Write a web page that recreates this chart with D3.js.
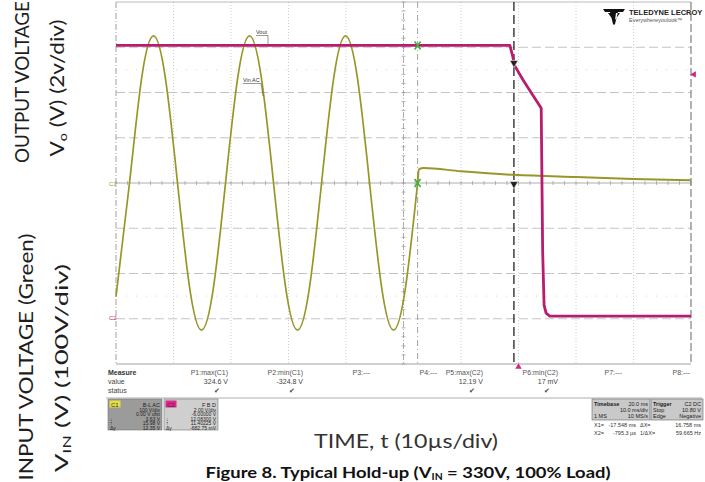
<!DOCTYPE html>
<html>
<head>
<meta charset="utf-8">
<script src="https://cdn.jsdelivr.net/npm/d3@7"></script>
<style>
  body { margin: 0; background: #fff; }
  text { font-family: "Liberation Sans", Arial, sans-serif; }
</style>
</head>
<body>
<div id="scope"></div>
<script>
// time in ms (trigger = 0), volts
const vinAcTime = [-70, -67.65, -65.56, -63.48, -61.39, -59.30, -57.21, -55.13, -53.04,
  -50.95, -48.86, -46.78, -44.69, -42.60, -40.51, -38.43, -36.34,
  -34.25, -32.16, -30.08, -27.99, -25.90, -23.81, -21.73, -19.64, -17.55];
const vinAcVolts = [-251, 0, 230, 325, 230, 0, -230, -325, -230,
  0, 230, 325, 230, 0, -230, -325, -230,
  0, 230, 325, 230, 0, -230, -325, -230, 0];

const vinHoldTime = [-17.55, -17.3, -16.5, -10, -0.8, 10, 20, 30];
const vinHoldVolts = [0, 30, 33, 26, 18, 13, 9, 6];

const voutTime = [-70, -1.5, -1.0, -0.7, 0.8, 2.3, 3.6, 3.95, 4.2, 4.45, 4.8, 5.4, 30];
const voutVolts = [12.08, 12.08, 11.6, 11.2, 10.55, 9.96, 9.45, 9.3, 3.0, 0.6, 0.25, 0.12, 0.12];

const cursorTimes = [-17.548, -0.7953];   // X1, X2
const triggerLevel = 10.8;

const measureNames = ["P1:max(C1)", "P2:min(C1)", "P3:---", "P4:---", "P5:max(C2)", "P6:min(C2)", "P7:---", "P8:---"];
const measureValues = ["324.6 V", "-324.8 V", "", "", "12.19 V", "17 mV", "", ""];
const measureStatus = ["\u2714", "\u2714", "", "", "\u2714", "\u2714", "", ""];
const measureRight = [228, 303, 370, 437, 483, 558, 622, 690];

const c1Rows = ["100 V/div", "0.00 V ofst", "3.63 V", "15.98 V", "12.35 V"];
const c2Rows = ["2.00 V/div", "-6.00000 V", "12.08300 V", "11.40225 V", "-682.75 mV"];
const rowMarks = ["", "", "\u2193", "\u2191", "\u0394y"];

var margins = {top: 2, right: 14, bottom: 118, left: 116},
    width = 705 - margins.left - margins.right,
    height = 482 - margins.top - margins.bottom;

var root = d3.select("#scope").append("svg")
    .attr("width", 705)
    .attr("height", 482);

root.append("rect").attr("width", 705).attr("height", 482).attr("fill", "#fff");

var svg = root.append("g")
    .attr("transform", "translate(" + margins.left + "," + margins.top + ")");

const x = d3.scaleLinear().domain([-70, 30]).range([0, width]);
const yVin = d3.scaleLinear().domain([-400, 400]).range([height, 0]);
const yVout = d3.scaleLinear().domain([-2, 14]).range([height, 0]);

// grid
svg.selectAll("line.vgrid")
  .data(d3.range(-60, 30, 10))
  .enter().append("line")
  .attr("x1", d => x(d)).attr("x2", d => x(d))
  .attr("y1", 0).attr("y2", height)
  .style("stroke", d => d === -20 ? "#999" : "#c4c4c4")
  .style("stroke-width", 0.8)
  .style("stroke-dasharray", d => d === -20 ? "6 2 1 2" : "1 2");

svg.selectAll("line.hgrid")
  .data(d3.range(-300, 400, 100))
  .enter().append("line")
  .attr("x1", 0).attr("x2", width)
  .attr("y1", d => yVin(d)).attr("y2", d => yVin(d))
  .style("stroke", d => d === 0 ? "#9a9a9a" : "#b5b5b5")
  .style("stroke-width", 0.8)
  .style("stroke-dasharray", d => d === 0 ? null : "9 4");

// half-division dotted rows
svg.selectAll("line.hdot")
  .data([250, -250])
  .enter().append("line")
  .attr("x1", 0).attr("x2", width)
  .attr("y1", d => yVin(d)).attr("y2", d => yVin(d))
  .style("stroke", "#c8c8c8")
  .style("stroke-width", 0.8)
  .style("stroke-dasharray", "1 9");

// minor ticks on centre axes
svg.selectAll("line.xtick")
  .data(d3.range(-70, 30.1, 2))
  .enter().append("line")
  .attr("x1", d => x(d)).attr("x2", d => x(d))
  .attr("y1", yVin(0) - 2).attr("y2", yVin(0) + 2)
  .style("stroke", "#999").style("stroke-width", 0.7);

svg.selectAll("line.ytick")
  .data(d3.range(-400, 400.1, 20))
  .enter().append("line")
  .attr("x1", x(-20) - 2).attr("x2", x(-20) + 2)
  .attr("y1", d => yVin(d)).attr("y2", d => yVin(d))
  .style("stroke", "#999").style("stroke-width", 0.7);

// frame
svg.append("line").attr("x1", 0).attr("x2", width).attr("y1", 0).attr("y2", 0)
  .style("stroke", "#aaa").style("stroke-width", 0.8);
svg.append("line").attr("x1", 0).attr("x2", width).attr("y1", height).attr("y2", height)
  .style("stroke", "#888").style("stroke-width", 0.8);
svg.append("line").attr("x1", 0).attr("x2", 0).attr("y1", 0).attr("y2", height)
  .style("stroke", "#888").style("stroke-width", 0.8).style("stroke-dasharray", "6 2 1 2");
svg.append("line").attr("x1", width).attr("x2", width).attr("y1", 0).attr("y2", height)
  .style("stroke", "#666").style("stroke-width", 1).style("stroke-dasharray", "8 3");

// cursors
svg.append("line")
  .attr("x1", x(cursorTimes[0])).attr("x2", x(cursorTimes[0]))
  .attr("y1", 0).attr("y2", height)
  .style("stroke", "#999").style("stroke-width", 0.9).style("stroke-dasharray", "6 3 1 3");
svg.append("line")
  .attr("x1", x(cursorTimes[1])).attr("x2", x(cursorTimes[1]))
  .attr("y1", 0).attr("y2", height)
  .style("stroke", "#222").style("stroke-width", 1.3).style("stroke-dasharray", "9 4");

// traces
const lineVin = d3.line().x(d => x(d[0])).y(d => yVin(d[1]));
const lineVout = d3.line().x(d => x(d[0])).y(d => yVout(d[1]));

svg.append("path")
  .datum(d3.zip(vinAcTime, vinAcVolts))
  .attr("d", lineVin.curve(d3.curveNatural))
  .style("fill", "none").style("stroke", "#999629").style("stroke-width", 1.7);

svg.append("path")
  .datum(d3.zip(vinHoldTime, vinHoldVolts))
  .attr("d", lineVin.curve(d3.curveMonotoneX))
  .style("fill", "none").style("stroke", "#999629").style("stroke-width", 2);

svg.append("path")
  .datum(d3.zip(voutTime, voutVolts))
  .attr("d", lineVout)
  .style("fill", "none").style("stroke", "#b81c6e").style("stroke-width", 2.8)
  .style("stroke-linejoin", "round");

// cursor markers
function marker(cx, cy, color) {
  svg.append("path")
    .attr("d", "M" + (cx - 3) + "," + (cy - 4) + "L" + (cx + 3) + "," + (cy + 4) +
      "M" + (cx + 3) + "," + (cy - 4) + "L" + (cx - 3) + "," + (cy + 4))
    .style("stroke", color).style("stroke-width", 1.6);
}
marker(x(cursorTimes[0]), yVout(12.08), "#3fae3f");
marker(x(cursorTimes[0]), yVin(0), "#3fae3f");
svg.append("path")
  .attr("d", d3.symbol(d3.symbolTriangle, 30)())
  .attr("transform", "translate(" + x(cursorTimes[1]) + "," + (yVout(11.4) + 2) + ") rotate(180)")
  .style("fill", "#222").style("stroke", "#fff").style("stroke-width", 0.6);
svg.append("path")
  .attr("d", d3.symbol(d3.symbolTriangle, 30)())
  .attr("transform", "translate(" + x(cursorTimes[1]) + "," + (yVin(0) + 1) + ") rotate(180)")
  .style("fill", "#222").style("stroke", "#fff").style("stroke-width", 0.6);

// trigger markers
svg.append("path")
  .attr("d", d3.symbol(d3.symbolTriangle, 18)())
  .attr("transform", "translate(" + x(0) + "," + (height + 3) + ")")
  .style("fill", "#d4247d");
svg.append("path")
  .attr("d", d3.symbol(d3.symbolTriangle, 18)())
  .attr("transform", "translate(" + (width + 3) + "," + yVout(triggerLevel) + ") rotate(-90)")
  .style("fill", "#d4247d");

// channel tags on the left edge
root.append("text").attr("x", 109).attr("y", margins.top + yVin(0) + 2.5)
  .style("font-size", "6px").style("fill", "#9c9a20").text("C1");
root.append("text").attr("x", 109).attr("y", margins.top + yVout(0) + 1)
  .style("font-size", "6px").style("fill", "#c8207a").text("C2");

// trace labels
function traceLabel(tx, ty, label, lx, ly) {
  svg.append("text").attr("x", tx).attr("y", ty)
    .style("font-size", "5.5px").style("fill", "#333").text(label);
  svg.append("line").attr("x1", tx).attr("x2", tx + label.length * 3).attr("y1", ty + 1.5).attr("y2", ty + 1.5)
    .style("stroke", "#333").style("stroke-width", 0.5);
  svg.append("line").attr("x1", tx + label.length * 3).attr("x2", lx).attr("y1", ty + 1.5).attr("y2", ly)
    .style("stroke", "#333").style("stroke-width", 0.5);
}
traceLabel(140, 32, "Vout", 152, 42);
traceLabel(127, 80, "Vin AC", 147, 94);

// logo
const logo = root.append("g").attr("transform", "translate(614,15)");
logo.append("path")
  .attr("d", "M-11,-6 L11,-6 L9,-3 L4,-3 L1,9 L0,10 L-1,9 L-4,-3 L-9,-3 Z M-6,-2 L-2,-2 L-1,5 Z M6,-2 L2,-2 L1,5 Z")
  .style("fill", "#111");
root.append("text").attr("x", 629).attr("y", 15)
  .style("font-size", "7.5px").style("font-weight", "bold").style("fill", "#222")
  .text("TELEDYNE LECROY");
root.append("text").attr("x", 629).attr("y", 22)
  .style("font-size", "5.5px").style("fill", "#555")
  .text("Everywhereyoulook\u2122");

// measure table
const tiny = "7px";
root.append("text").attr("x", 108).attr("y", 375).style("font-size", tiny).style("font-weight", "bold").style("fill", "#333").text("Measure");
root.append("text").attr("x", 108).attr("y", 384).style("font-size", tiny).style("fill", "#444").text("value");
root.append("text").attr("x", 108).attr("y", 393).style("font-size", tiny).style("fill", "#444").text("status");

root.selectAll("text.mname").data(measureNames).enter().append("text")
  .attr("x", (d, i) => measureRight[i]).attr("y", 375)
  .attr("text-anchor", "end").style("font-size", tiny).style("fill", "#555").text(d => d);
root.selectAll("text.mval").data(measureValues).enter().append("text")
  .attr("x", (d, i) => measureRight[i]).attr("y", 384)
  .attr("text-anchor", "end").style("font-size", tiny).style("fill", "#444").text(d => d);
root.selectAll("text.mstat").data(measureStatus).enter().append("text")
  .attr("x", (d, i) => measureRight[i] - 8).attr("y", 393)
  .attr("text-anchor", "end").style("font-size", tiny).style("fill", "#444").text(d => d);

root.append("line").attr("x1", 106).attr("x2", 702).attr("y1", 398).attr("y2", 398)
  .style("stroke", "#999").style("stroke-width", 0.8);

// channel panels
function channelPanel(px, fill, tagFill, tag, coupling, rows) {
  root.append("rect").attr("x", px).attr("y", 399).attr("width", 54).attr("height", 31)
    .style("fill", fill).style("stroke", "#777").style("stroke-width", 0.6);
  root.append("rect").attr("x", px + 1.5).attr("y", 400.5).attr("width", 11).attr("height", 7)
    .style("fill", tagFill);
  root.append("text").attr("x", px + 3).attr("y", 406.5).style("font-size", "6px").style("fill", "#333").text(tag);
  root.append("text").attr("x", px + 52).attr("y", 406.5).attr("text-anchor", "end")
    .style("font-size", "5.5px").style("fill", "#222").text(coupling);
  root.selectAll(null).data(rows).enter().append("text")
    .attr("x", px + 52).attr("y", (d, i) => 411.5 + i * 4.6).attr("text-anchor", "end")
    .style("font-size", "5px").style("fill", "#222").text(d => d);
  root.selectAll(null).data(rowMarks).enter().append("text")
    .attr("x", px + 2).attr("y", (d, i) => 411.5 + i * 4.6)
    .style("font-size", "5px").style("fill", "#222").text(d => d);
}
channelPanel(108, "#9b9b9b", "#e2df45", "C1", "B-L AC", c1Rows);
channelPanel(164, "#cfcfcf", "#e0248a", "C2", "F B D", c2Rows);

// timebase / trigger panels
root.append("rect").attr("x", 592).attr("y", 399).attr("width", 58).attr("height", 21)
  .style("fill", "#c9c9c9").style("stroke", "#666").style("stroke-width", 0.6);
root.append("rect").attr("x", 651).attr("y", 399).attr("width", 52).attr("height", 21)
  .style("fill", "#c9c9c9").style("stroke", "#666").style("stroke-width", 0.6);
const tbLeft = ["Timebase", "", "1 MS"], tbRight = ["20.0 ms", "10.0 ms/div", "10 MS/s"];
const trLeft = ["Trigger", "Stop", "Edge"], trRight = ["C2 DC", "10.80 V", "Negative"];
tbLeft.forEach((t, i) => root.append("text").attr("x", 594).attr("y", 405.5 + i * 6.3).style("font-size", "5.5px").style("font-weight", i === 0 ? "bold" : "normal").style("fill", "#222").text(t));
tbRight.forEach((t, i) => root.append("text").attr("x", 648).attr("y", 405.5 + i * 6.3).attr("text-anchor", "end").style("font-size", "5.5px").style("fill", "#222").text(t));
trLeft.forEach((t, i) => root.append("text").attr("x", 653).attr("y", 405.5 + i * 6.3).style("font-size", "5.5px").style("font-weight", i === 0 ? "bold" : "normal").style("fill", "#222").text(t));
trRight.forEach((t, i) => root.append("text").attr("x", 701).attr("y", 405.5 + i * 6.3).attr("text-anchor", "end").style("font-size", "5.5px").style("fill", "#222").text(t));

const cursorRows = [["X1=", "-17.548 ms", "\u0394X=", "16.758 ms"], ["X2=", "-795.3 \u00b5s", "1/\u0394X=", "59.665 Hz"]];
cursorRows.forEach((r, i) => {
  const yy = 427 + i * 8;
  root.append("text").attr("x", 594).attr("y", yy).style("font-size", "5.5px").style("fill", "#333").text(r[0]);
  root.append("text").attr("x", 636).attr("y", yy).attr("text-anchor", "end").style("font-size", "5.5px").style("fill", "#333").text(r[1]);
  root.append("text").attr("x", 640).attr("y", yy).style("font-size", "5.5px").style("fill", "#333").text(r[2]);
  root.append("text").attr("x", 701).attr("y", yy).attr("text-anchor", "end").style("font-size", "5.5px").style("fill", "#333").text(r[3]);
});

// axis titles
const big = "Lato, 'Open Sans', sans-serif";
function vTitle(cx, cy, len, size, parts) {
  const t = root.append("text")
    .attr("transform", "translate(" + cx + "," + cy + ") rotate(-90)")
    .attr("text-anchor", "middle")
    .attr("textLength", len).attr("lengthAdjust", "spacingAndGlyphs")
    .style("font-family", big).style("font-size", size + "px").style("fill", "#1e1e1e");
  parts.forEach(p => {
    const s = t.append("tspan").text(p[0]);
    if (p[1]) s.attr("baseline-shift", "-3").style("font-size", "12px");
  });
}
vTitle(29, 82, 162, 19, [["OUTPUT VOLTAGE"]]);
vTitle(64, 88, 137, 19, [["V"], ["o", "sub"], [" (V) (2v/div)"]]);
vTitle(33, 357, 247, 19, [["INPUT VOLTAGE (Green)"]]);
vTitle(68, 368, 208, 18, [["V"], ["IN", "sub"], [" (V) (100V/div)"]]);

root.append("text").attr("x", 406).attr("y", 448).attr("text-anchor", "middle")
  .attr("textLength", 184).attr("lengthAdjust", "spacingAndGlyphs")
  .style("font-family", big).style("font-size", "20px").style("fill", "#333")
  .text("TIME, t (10\u00b5s/div)");

const cap = root.append("text").attr("x", 408).attr("y", 478).attr("text-anchor", "middle")
  .attr("textLength", 405).attr("lengthAdjust", "spacingAndGlyphs")
  .style("font-family", big).style("font-size", "16px").style("font-weight", "bold").style("fill", "#111");
cap.append("tspan").text("Figure 8. Typical Hold-up (V");
cap.append("tspan").attr("baseline-shift", "-2").style("font-size", "9px").text("IN");
cap.append("tspan").text(" = 330V, 100% Load)");
</script>
</body>
</html>
